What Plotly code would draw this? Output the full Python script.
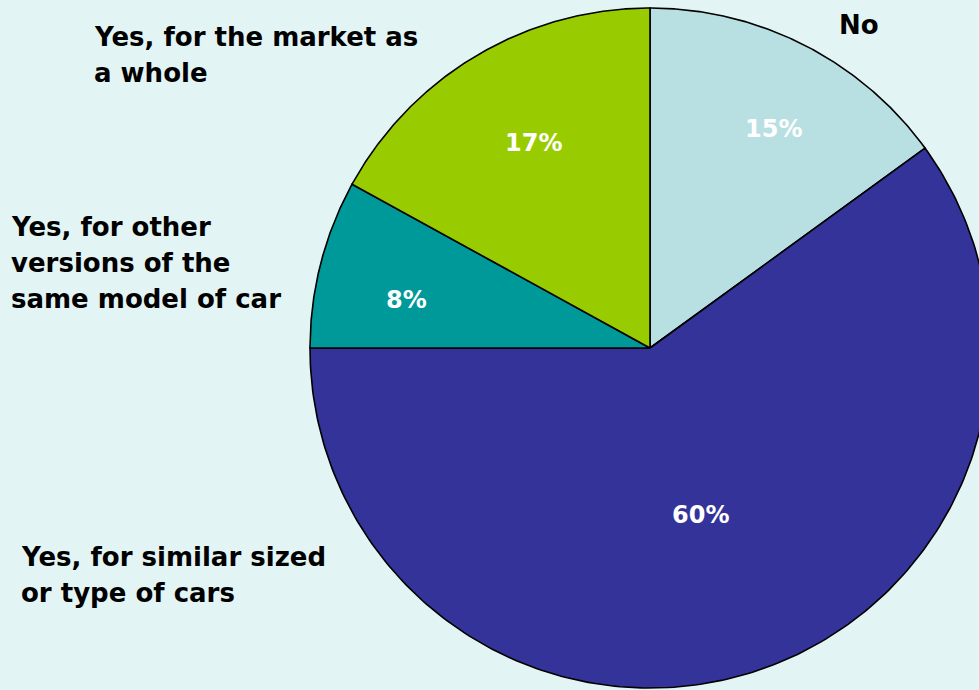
import numpy as np
import plotly.graph_objects as go

# ---- data ----
categories = ["No", "Yes, for similar sized<br>or type of cars",
              "Yes, for other<br>versions of the<br>same model of car",
              "Yes, for the market as<br>a whole"]
values = [15, 60, 8, 17]
pct_labels = ["15%", "60%", "8%", "17%"]

# ---- style ----
colors = ["#B8DFE2", "#333399", "#009999", "#99CC00"]
bg = "#E3F4F4"
W, H = 979, 690
CX, CY, R = 650, 348, 340          # pie centre / radius in pixels
pct_radius = [0.741, 0.513, 0.730, 0.694]
pct_dtheta = [2.4, 1.3, -3.3, 0.9]   # degrees, label nudge from slice mid-angle
# outside label anchors (pixels: left edge, centre of first line)
label_pos = [(837, 25), (19, 557), (9, 227), (92, 37)]
line_gap = 36
label_font = dict(family="DejaVu Sans", size=26, color="#000000")
pct_font = dict(family="DejaVu Sans", size=24, color="#FFFFFF")

fig = go.Figure()
total = float(sum(values))
cum = np.cumsum([0] + values) / total
for i, v in enumerate(values):
    t0, t1 = cum[i] * 2 * np.pi, cum[i + 1] * 2 * np.pi
    th = np.linspace(t0, t1, 240)
    xs = np.concatenate([[0], np.sin(th), [0]])
    ys = np.concatenate([[0], np.cos(th), [0]])
    fig.add_trace(go.Scatter(x=xs, y=ys, mode="lines", fill="toself",
                             fillcolor=colors[i],
                             line=dict(color="#000000", width=1.6),
                             hoverinfo="skip", showlegend=False))

annotations = []
for i, v in enumerate(values):
    mid = (cum[i] + cum[i + 1]) / 2 * 2 * np.pi + np.radians(pct_dtheta[i])
    annotations.append(dict(x=pct_radius[i] * np.sin(mid), y=pct_radius[i] * np.cos(mid),
                            xref="x", yref="y", text="<b>%s</b>" % pct_labels[i],
                            showarrow=False, font=pct_font,
                            xanchor="center", yanchor="middle"))

for i, lab in enumerate(categories):
    px, py = label_pos[i]
    for j, line in enumerate(lab.split("<br>")):
        yy = py + j * line_gap
        annotations.append(dict(x=px / W, y=1 - yy / H, xref="paper", yref="paper",
                                text="<b>%s</b>" % line, showarrow=False,
                                font=label_font, xanchor="left", yanchor="middle"))

fig.update_layout(
    width=W, height=H,
    margin=dict(l=0, r=0, t=0, b=0),
    paper_bgcolor=bg, plot_bgcolor=bg,
    xaxis=dict(range=[(0 - CX) / R, (W - CX) / R], visible=False, fixedrange=True),
    yaxis=dict(range=[(CY - H) / R, CY / R], visible=False, fixedrange=True),
    annotations=annotations,
    showlegend=False,
)

fig.write_html("out.html", config={"displayModeBar": False})
